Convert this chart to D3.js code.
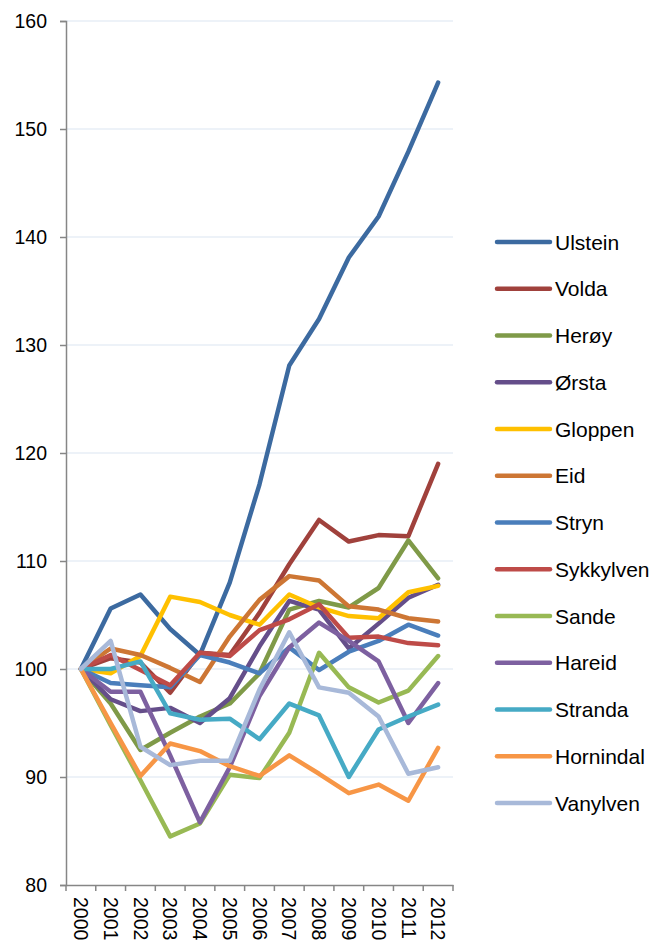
<!DOCTYPE html>
<html>
<head>
<meta charset="utf-8">
<script src="https://cdn.jsdelivr.net/npm/d3@7"></script>
<style>
  body { margin: 0; background: #fff; }
  svg text { font-family: "Liberation Sans", Arial, sans-serif; fill: #000; }
</style>
</head>
<body>
<svg id="chart" width="653" height="947"></svg>
<script>
// Data
const years = ["2000","2001","2002","2003","2004","2005","2006","2007","2008","2009","2010","2011","2012"];
const yTicks = [80, 90, 100, 110, 120, 130, 140, 150, 160];

const ulstein   = [100, 105.6, 106.9, 103.7, 101.3, 108.0, 117.1, 128.1, 132.4, 138.1, 141.9, 147.9, 154.3];
const volda     = [100, 101.0, 100.6, 97.8, 101.5, 101.3, 105.2, 109.7, 113.8, 111.8, 112.4, 112.3, 119.0];
const heroy     = [100, 96.8, 92.5, 94.1, 95.6, 96.8, 99.6, 105.5, 106.3, 105.7, 107.5, 111.9, 108.4];
const orsta     = [100, 97.2, 96.1, 96.4, 95.0, 97.3, 102.1, 106.3, 105.5, 101.9, 104.2, 106.6, 107.8];
const gloppen   = [100, 99.6, 101.2, 106.7, 106.2, 105.0, 104.1, 106.9, 105.7, 104.9, 104.7, 107.1, 107.7];
const eid       = [100, 101.9, 101.3, 100.1, 98.8, 103.0, 106.4, 108.6, 108.2, 105.8, 105.5, 104.7, 104.4];
const stryn     = [100, 98.7, 98.5, 98.3, 101.3, 100.6, 99.6, 102.0, 99.9, 101.6, 102.6, 104.1, 103.1];
const sykkylven = [100, 101.3, 99.9, 98.5, 101.5, 101.2, 103.6, 104.6, 106.0, 102.9, 103.0, 102.4, 102.2];
const sande     = [100, 94.8, 89.7, 84.5, 85.7, 90.2, 89.9, 94.1, 101.5, 98.3, 96.9, 98.0, 101.2];
const hareid    = [100, 97.9, 97.9, 92.0, 85.8, 90.9, 97.5, 102.0, 104.3, 102.6, 100.7, 95.0, 98.7];
const stranda   = [100, 100.0, 100.7, 95.9, 95.3, 95.4, 93.5, 96.8, 95.7, 90.0, 94.4, 95.6, 96.7];
const hornindal = [100, 95.0, 90.1, 93.1, 92.4, 91.0, 90.1, 92.0, 90.3, 88.5, 89.3, 87.8, 92.7];
const vanylven  = [100, 102.6, 92.8, 91.1, 91.5, 91.5, 98.1, 103.4, 98.3, 97.8, 95.6, 90.3, 90.9];

const seriesNames = ["Ulstein","Volda","Herøy","Ørsta","Gloppen","Eid","Stryn","Sykkylven","Sande","Hareid","Stranda","Hornindal","Vanylven"];
const seriesValues = [ulstein, volda, heroy, orsta, gloppen, eid, stryn, sykkylven, sande, hareid, stranda, hornindal, vanylven];
const seriesColors = ["#3C6AA0","#A0413C","#7F9A48","#654E8A","#FFC000","#CD7634","#4A7EBB","#BE4B48","#98B954","#7D60A0","#46AAC5","#F79646","#A8B9D9"];

const series = seriesNames.map((name, i) => ({ name, values: seriesValues[i], color: seriesColors[i] }));

// Layout
const plot = { left: 66, right: 453, top: 21, bottom: 885 };
const svg = d3.select("#chart");

const x = d3.scaleBand().domain(years).range([plot.left, plot.right]);
const y = d3.scaleLinear().domain([80, 160]).range([plot.bottom, plot.top]);

// Gridlines
svg.append("g")
  .selectAll("line")
  .data(yTicks.filter(d => d !== 80))
  .enter().append("line")
  .attr("x1", plot.left).attr("x2", plot.right)
  .attr("y1", d => y(d)).attr("y2", d => y(d))
  .attr("stroke", "#DCE6F2")
  .attr("stroke-width", 1.2);

// Y axis
const yAxis = svg.append("g")
  .attr("transform", `translate(${plot.left},0)`)
  .call(d3.axisLeft(y).tickValues(yTicks).tickSize(6).tickPadding(13).tickFormat(d3.format("d")));
yAxis.select(".domain").attr("stroke", "#868686").attr("stroke-width", 1.5);
yAxis.selectAll(".tick line").attr("stroke", "#868686").attr("stroke-width", 1.5);
yAxis.selectAll("text").attr("font-size", "19.5px").attr("fill", "#000")
  .style("font-family", '"Liberation Sans", Arial, sans-serif');

// X axis
const xAxis = svg.append("g")
  .attr("transform", `translate(0,${plot.bottom})`)
  .call(d3.axisBottom(x).tickSize(0).tickSizeOuter(0));
xAxis.select(".domain").attr("stroke", "#868686").attr("stroke-width", 1.5);
// tick marks at band boundaries
xAxis.append("g")
  .selectAll("line")
  .data(years.concat(["end"]))
  .enter().append("line")
  .attr("x1", (d, i) => plot.left + i * x.step())
  .attr("x2", (d, i) => plot.left + i * x.step())
  .attr("y1", 0).attr("y2", 6)
  .attr("stroke", "#868686").attr("stroke-width", 1.5);
xAxis.selectAll(".tick text")
  .attr("font-size", "19.5px")
  .attr("fill", "#000")
  .style("font-family", '"Liberation Sans", Arial, sans-serif')
  .attr("text-anchor", "start")
  .attr("dy", "0.35em")
  .attr("transform", "translate(0,12) rotate(90)")
  .attr("x", 0).attr("y", 0);

// Lines
const line = d3.line()
  .x((d, i) => x(years[i]) + x.bandwidth() / 2)
  .y(d => y(d));

svg.append("g")
  .selectAll("path")
  .data(series)
  .enter().append("path")
  .attr("d", d => line(d.values))
  .attr("fill", "none")
  .attr("stroke", d => d.color)
  .attr("stroke-width", 4.5)
  .attr("stroke-linejoin", "round")
  .attr("stroke-linecap", "round");

// Legend
const legend = svg.append("g")
  .selectAll("g")
  .data(series)
  .enter().append("g")
  .attr("transform", (d, i) => `translate(497,${242 + i * 46.75})`);

legend.append("line")
  .attr("x1", 0).attr("x2", 53)
  .attr("y1", 0).attr("y2", 0)
  .attr("stroke", d => d.color)
  .attr("stroke-width", 4.5)
  .attr("stroke-linecap", "round");

legend.append("text")
  .attr("x", 58)
  .attr("y", 0)
  .attr("dy", "0.36em")
  .attr("font-size", "21px")
  .text(d => d.name);
</script>
</body>
</html>
